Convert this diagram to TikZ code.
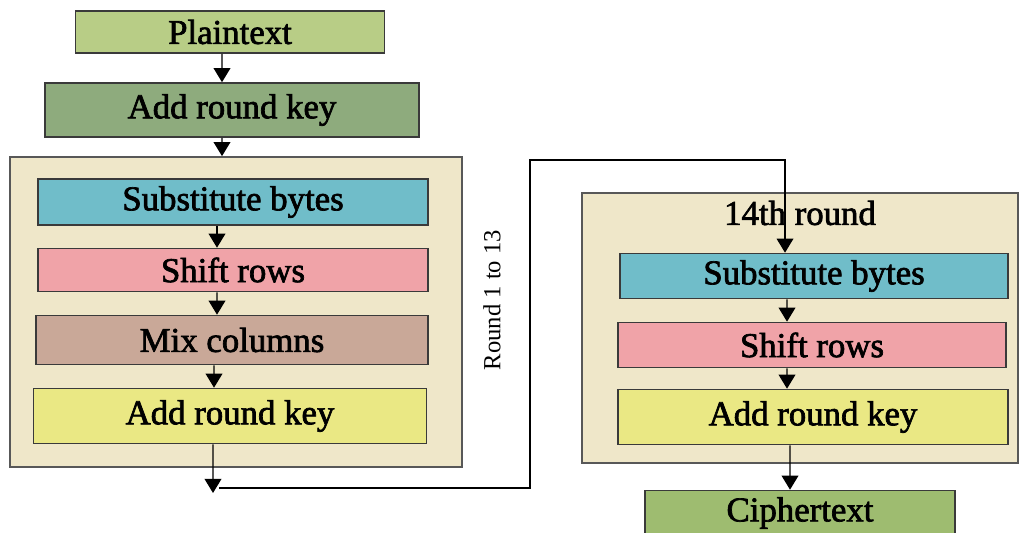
\documentclass[tikz,border=0pt]{standalone}
\usepackage{fontspec}
\setmainfont{Liberation Serif}
\newfontfamily\boxfont{Liberation Serif}[BoldFont=Liberation Serif, BoldFeatures={FakeBold=2}]
\usepackage{xcolor}
\usepackage{tikz}
\usetikzlibrary{arrows.meta, positioning}
\definecolor{plaingreen}{RGB}{184,205,134}
\definecolor{keygreen}{RGB}{142,171,125}
\definecolor{roundbg}{RGB}{239,231,201}
\definecolor{subblue}{RGB}{112,189,201}
\definecolor{shiftpink}{RGB}{240,163,168}
\definecolor{mixbrown}{RGB}{201,168,152}
\definecolor{keyyellow}{RGB}{234,232,132}
\definecolor{ciphgreen}{RGB}{158,188,112}
\definecolor{edge}{RGB}{58,58,58}
\tikzstyle{stepbox} = [rectangle, minimum height=0.9cm, text centered, draw=edge, line width=0.9pt, font=\boxfont\bfseries\fontsize{19.8}{21}\selectfont, inner sep=0pt]
\tikzstyle{roundbox} = [rectangle, draw=edge!85, line width=1pt, fill=roundbg]
\tikzstyle{arrow} = [line width=0.8pt, -{Triangle[width=9.5pt,length=8pt]}]

\begin{document}
\begin{tikzpicture}[x=0.02cm, y=-0.02cm]
    \useasboundingbox (0,0) rectangle (1023,533);
    % initial key addition
    \node (p) [stepbox, fill=plaingreen, minimum width=6.18cm, minimum height=0.84cm] at (230,32) {Plaintext};
    \node (k0) [stepbox, fill=keygreen, minimum width=7.48cm, minimum height=1.08cm] at (232,110) {Add round key};

    % rounds 1 to 13
    \node (r1) [roundbox, minimum width=9.04cm, minimum height=6.2cm] at (236,312) {};
    \node (s1) [stepbox, fill=subblue, minimum width=7.8cm, minimum height=0.92cm] at (233,202) {Substitute bytes};
    \node (h1) [stepbox, fill=shiftpink, minimum width=7.8cm, minimum height=0.86cm] at (233,270) {Shift rows};
    \node (m1) [stepbox, fill=mixbrown, minimum width=7.84cm, minimum height=0.98cm] at (232,340) {Mix columns};
    \node (k1) [stepbox, fill=keyyellow, minimum width=7.86cm, minimum height=1.1cm] at (230,416) {Add round key};
    \node (lbl) [rotate=90, font=\fontsize{14}{16}\selectfont] at (492,300) {Round 1 to 13};

    % last round, no mix columns
    \node (r2) [roundbox, minimum width=8.72cm, minimum height=5.4cm] at (800,328) {};
    \node (t2) [font=\boxfont\bfseries\fontsize{19.8}{21}\selectfont] at (800,213) {14th round};
    \node (s2) [stepbox, fill=subblue, minimum width=7.76cm, minimum height=0.9cm] at (814,276) {Substitute bytes};
    \node (h2) [stepbox, fill=shiftpink, minimum width=7.76cm, minimum height=0.9cm] at (812,345) {Shift rows};
    \node (k2) [stepbox, fill=keyyellow, minimum width=7.8cm, minimum height=1.1cm] at (813,417) {Add round key};
    \node (c) [stepbox, fill=ciphgreen, minimum width=6.2cm, minimum height=0.9cm] at (800,513) {Ciphertext};

    \coordinate (back) at (213,493);
    \coordinate (start) at (219,488);
    \coordinate (up) at (530,160);

    \draw [arrow] ([xshift=-0.16cm]p.south) -- ([xshift=-0.2cm]k0.north);
    \draw [arrow] ([xshift=-0.2cm]k0.south) -- ([xshift=-0.28cm]r1.north);
    \draw [arrow] ([xshift=-0.32cm]s1.south) -- ([xshift=-0.32cm]h1.north);
    \draw [arrow] ([xshift=-0.32cm]h1.south) -- ([xshift=-0.3cm]m1.north);
    \draw [arrow] ([xshift=-0.36cm]m1.south) -- ([xshift=-0.32cm]k1.north);
    \draw [arrow] ([xshift=-0.34cm]k1.south) -- (back);
    % feed back into the last round
    \draw [arrow, line width=0.7pt] (start) -| (up) -| ([xshift=-0.58cm]s2.north);
    \draw [arrow] ([xshift=-0.54cm]s2.south) -- ([xshift=-0.5cm]h2.north);
    \draw [arrow] ([xshift=-0.5cm]h2.south) -- ([xshift=-0.52cm]k2.north);
    \draw [arrow] ([xshift=-0.46cm]k2.south) -- ([xshift=-0.2cm]c.north);
\end{tikzpicture}
\end{document}
